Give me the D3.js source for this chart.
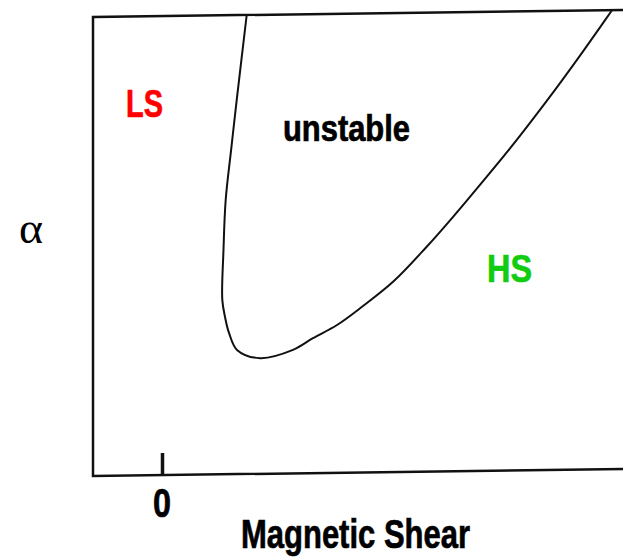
<!DOCTYPE html>
<html>
<head>
<meta charset="utf-8">
<script src="https://cdn.jsdelivr.net/npm/d3@7"></script>
<style>
  html, body { margin: 0; padding: 0; background: #fff; }
  svg { display: block; }
</style>
</head>
<body>
<div id="chart"></div>
<script>
// stability boundary, magnetic shear s vs alpha
const shear = [0.847, 0.747, 0.692, 0.637, 0.615, 0.603, 0.63, 0.67, 0.753, 0.98,
               1.31, 1.51, 1.75, 2.0, 2.313, 2.647, 2.913, 3.213, 3.48, 3.68, 3.947, 4.18, 4.38, 4.50];
const alpha = [1.0, 0.815, 0.708, 0.598, 0.489, 0.380, 0.343, 0.308, 0.270, 0.252,
               0.269, 0.294, 0.322, 0.361, 0.415, 0.490, 0.555, 0.632, 0.702, 0.757, 0.833, 0.902, 0.963, 1.0];
const shearTicks = [0];
const regionLabels = ["LS", "unstable", "HS"];

const width = 623, height = 557;
const fontSans = "'Liberation Sans', Arial, sans-serif";

const svg = d3.select("#chart").append("svg")
    .attr("width", width)
    .attr("height", height);

const x = d3.scaleLinear().domain([-0.69, 4.68]).range([93, 630]);
const y = d3.scaleLinear().domain([0, 1]).range([476, 17]);

// the scan is slightly tilted, so tilt the plot a little
const plot = svg.append("g")
    .attr("transform", `translate(93,0) skewY(-0.75) translate(-93,0)`);

plot.append("rect")
    .attr("x", x.range()[0])
    .attr("y", y.range()[1])
    .attr("width", x.range()[1] - x.range()[0])
    .attr("height", y.range()[0] - y.range()[1])
    .attr("fill", "none")
    .attr("stroke", "#111")
    .attr("stroke-width", 2.5);

const pts = shear.map((s, i) => [s, alpha[i]]);
const line = d3.line()
    .x(d => x(d[0]))
    .y(d => y(d[1]))
    .curve(d3.curveCatmullRom.alpha(0.5));

plot.append("path")
    .datum(pts)
    .attr("d", line)
    .attr("fill", "none")
    .attr("stroke", "#111")
    .attr("stroke-width", 2);

// single tick at zero shear, pointing into the box
const axis = plot.append("g")
    .attr("transform", `translate(0,${y.range()[0]})`)
    .call(d3.axisBottom(x).tickValues(shearTicks).tickSizeInner(-22).tickSizeOuter(0).tickFormat(""));
axis.select(".domain").remove();
axis.selectAll(".tick line").attr("stroke", "#111").attr("stroke-width", 3.5);

// bold condensed labels, a light stroke makes them heavier like the scan
function boldText(tx, ty, size, len, color, str) {
  svg.append("text")
      .attr("x", tx).attr("y", ty)
      .attr("font-family", fontSans).attr("font-weight", "bold").attr("font-size", size)
      .attr("textLength", len).attr("lengthAdjust", "spacingAndGlyphs")
      .attr("fill", color).attr("stroke", color).attr("stroke-width", 0.7)
      .text(str);
}

boldText(x(0) - 9, 517, 41, 18, "#000", d3.format("d")(shearTicks[0]));
boldText(241, 548, 41, 229, "#000", "Magnetic Shear");

svg.append("text")
    .attr("x", 19).attr("y", 243)
    .attr("font-family", "'Liberation Serif', 'Times New Roman', serif")
    .attr("font-size", 44)
    .attr("textLength", 24).attr("lengthAdjust", "spacingAndGlyphs")
    .text("α");

const labelPos = [
  { x: 126, y: 117, size: 38, len: 37, color: "#ff0000" },
  { x: 283, y: 141, size: 36, len: 127, color: "#000" },
  { x: 487, y: 282, size: 39, len: 45, color: "#11cc11" }
];
regionLabels.forEach((t, i) => {
  const p = labelPos[i];
  boldText(p.x, p.y, p.size, p.len, p.color, t);
});
</script>
</body>
</html>
